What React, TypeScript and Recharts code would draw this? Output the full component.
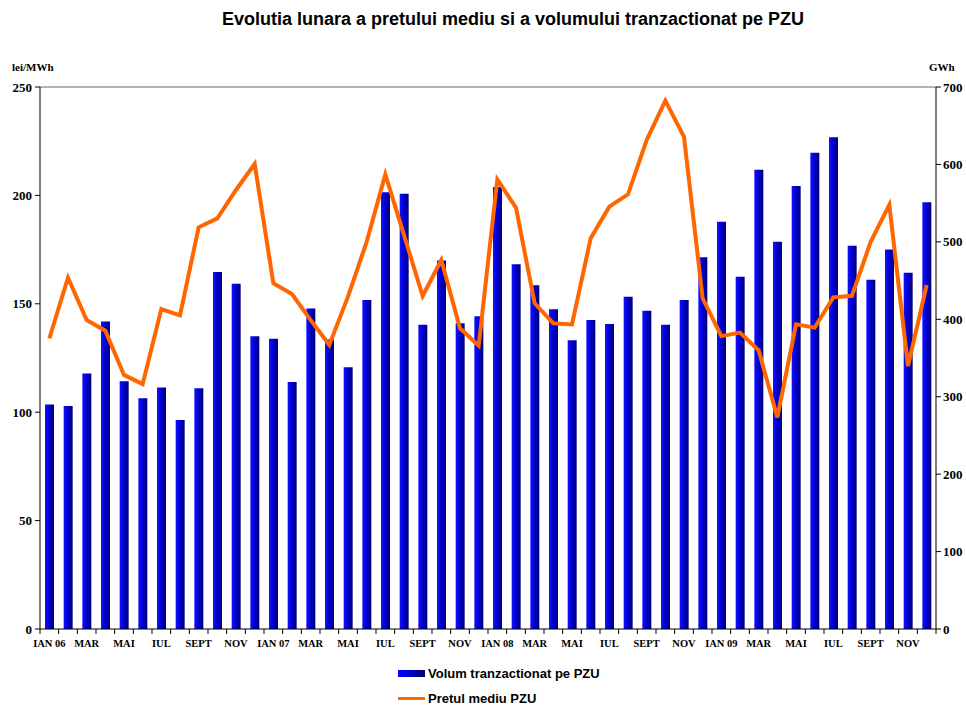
import { Bar, ComposedChart, Line, ReferenceLine, XAxis, YAxis } from "recharts";

// lunile Ian 2006 - Dec 2009
const LUNI = [
  "IAN 06", "FEB", "MAR", "APR", "MAI", "IUN", "IUL", "AUG", "SEPT", "OCT", "NOV", "DEC",
  "IAN 07", "FEB", "MAR", "APR", "MAI", "IUN", "IUL", "AUG", "SEPT", "OCT", "NOV", "DEC",
  "IAN 08", "FEB", "MAR", "APR", "MAI", "IUN", "IUL", "AUG", "SEPT", "OCT", "NOV", "DEC",
  "IAN 09", "FEB", "MAR", "APR", "MAI", "IUN", "IUL", "AUG", "SEPT", "OCT", "NOV", "DEC",
];

// GWh
const VOLUM = [
  290, 288, 330, 397, 320, 298, 312, 270, 311, 461, 446, 378,
  375, 319, 414, 374, 338, 425, 564, 562, 393, 476, 395, 404,
  571, 471, 444, 413, 373, 399, 394, 429, 411, 393, 425, 480,
  526, 455, 593, 500, 572, 615, 635, 495, 451, 490, 460, 551,
];

// lei/MWh
const PRET = [
  134, 162, 142.5, 137.6, 117.2, 113, 147.6, 144.7, 185.3, 189.4, 202.5, 214.5,
  159.5, 154.5, 142.5, 131, 153.3, 178.6, 209.7, 181.7, 153.6, 170.2, 138.7, 130.7,
  207.4, 194.3, 150.2, 141, 140.5, 180.2, 194.8, 200.5, 225.5, 243.7, 227, 152.5,
  135.1, 136.7, 128.5, 97.6, 140.5, 139, 153, 153.7, 178.6, 195.6, 121.3, 158.7,
];

const TICKS_STANGA = [0, 50, 100, 150, 200, 250];
const TICKS_DREAPTA = [0, 100, 200, 300, 400, 500, 600, 700];

const W = 966;
const H = 706;
const LAT_STANGA = 40;
const LAT_DREAPTA = 30;
const PAS = (W - LAT_STANGA - LAT_DREAPTA) / LUNI.length;
const TICK = 5;

const serif = "'Liberation Serif', 'Times New Roman', serif";
const sans = "'Liberation Sans', Arial, sans-serif";

const data = LUNI.map((luna, i) => ({ luna, volum: VOLUM[i], pret: PRET[i] }));

function LunaTick(props: any) {
  const { x, y, payload } = props;
  const i = payload.index;
  const axaY = y - TICK;
  return (
    <g>
      <line x1={x - PAS / 2} x2={x - PAS / 2} y1={axaY} y2={axaY + TICK} stroke="#000" />
      {i === LUNI.length - 1 && (
        <line x1={x + PAS / 2} x2={x + PAS / 2} y1={axaY} y2={axaY + TICK} stroke="#000" />
      )}
      {i % 2 === 0 && (
        <text
          x={x}
          y={axaY + 18}
          textAnchor="middle"
          fontFamily={serif}
          fontWeight="bold"
          fontSize={10.5}
          fill="#000"
        >
          {payload.value}
        </text>
      )}
    </g>
  );
}

export default function App() {
  const axisTick = { fontFamily: serif, fontWeight: "bold", fontSize: 13, fill: "#000" } as const;
  return (
    <div style={{ position: "absolute", left: 0, top: 0, width: W, height: H, background: "#fff" }}>
      <div
        style={{
          position: "absolute",
          left: 0,
          width: W,
          top: 9,
          textAlign: "center",
          paddingLeft: 60,
          boxSizing: "border-box",
          fontFamily: sans,
          fontWeight: "bold",
          fontSize: 18,
        }}
      >
        Evolutia lunara a pretului mediu si a volumului tranzactionat pe PZU
      </div>
      <div style={{ position: "absolute", left: 12, top: 61, fontFamily: serif, fontWeight: "bold", fontSize: 11 }}>
        lei/MWh
      </div>
      <div style={{ position: "absolute", left: 929, top: 61, fontFamily: serif, fontWeight: "bold", fontSize: 11 }}>
        GWh
      </div>

      <ComposedChart
        width={W}
        height={H}
        data={data}
        margin={{ top: 87, right: 0, bottom: 57, left: 0 }}
        barCategoryGap={0}
      >
        <defs>
          <linearGradient id="albastru" x1="0" x2="1" y1="0" y2="0">
            <stop offset="0%" stopColor="#1010ff" />
            <stop offset="50%" stopColor="#0000d0" />
            <stop offset="100%" stopColor="#000070" />
          </linearGradient>
        </defs>
        <XAxis
          dataKey="luna"
          interval={0}
          height={20}
          tickLine={false}
          tickSize={TICK}
          tickMargin={0}
          axisLine={{ stroke: "#000" }}
          tick={<LunaTick />}
        />
        <YAxis
          yAxisId="stanga"
          orientation="left"
          width={LAT_STANGA}
          domain={[0, 250]}
          ticks={TICKS_STANGA}
          tickSize={TICK}
          tickMargin={3}
          tickLine={{ stroke: "#000" }}
          axisLine={{ stroke: "#000" }}
          tick={axisTick}
        />
        <YAxis
          yAxisId="dreapta"
          orientation="right"
          width={LAT_DREAPTA}
          domain={[0, 700]}
          ticks={TICKS_DREAPTA}
          tickSize={TICK}
          tickMargin={2}
          tickLine={{ stroke: "#000" }}
          axisLine={{ stroke: "#000" }}
          tick={{ ...axisTick, textAnchor: "start" }}
        />
        <ReferenceLine yAxisId="stanga" y={250} stroke="#999" strokeWidth={1.5} />
        <Bar yAxisId="dreapta" dataKey="volum" barSize={9} fill="url(#albastru)" isAnimationActive={false} />
        <Line
          yAxisId="stanga"
          dataKey="pret"
          type="linear"
          stroke="#ff6600"
          strokeWidth={4}
          dot={false}
          isAnimationActive={false}
        />
      </ComposedChart>

      <div style={{ position: "absolute", left: 398, top: 664, fontFamily: sans, fontWeight: "bold", fontSize: 13 }}>
        <div style={{ display: "flex", alignItems: "center", height: 18 }}>
          <span
            style={{
              display: "inline-block",
              width: 27,
              height: 7,
              marginRight: 3,
              background: "linear-gradient(to right, #0000ff, #0000c0, #00006a)",
            }}
          />
          Volum tranzactionat pe PZU
        </div>
        <div style={{ display: "flex", alignItems: "center", height: 18, marginTop: 7 }}>
          <span style={{ display: "inline-block", width: 27, height: 3, marginRight: 3, background: "#ff6600" }} />
          Pretul mediu PZU
        </div>
      </div>
    </div>
  );
}
